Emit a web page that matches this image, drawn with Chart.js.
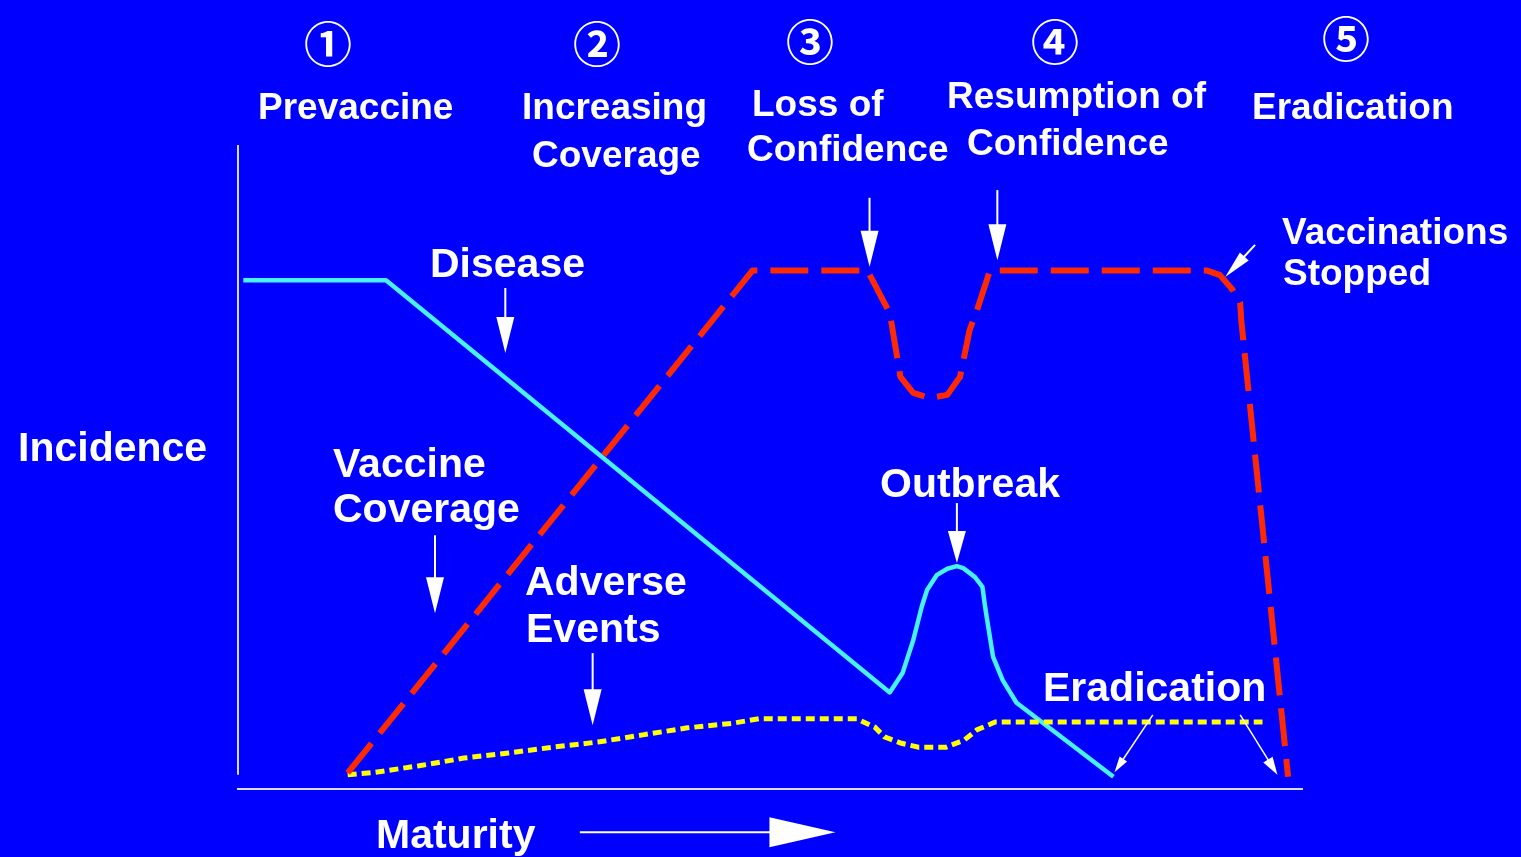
<!DOCTYPE html>
<html>
<head>
<meta charset="utf-8">
<script src="https://cdn.jsdelivr.net/npm/chart.js@4.4.1/dist/chart.umd.min.js"></script>
<style>
  html, body { margin: 0; padding: 0; background: #0000ff; overflow: hidden; }
  #wrap { width: 1521px; height: 857px; position: relative; }
</style>
</head>
<body>
<div id="wrap"><canvas id="myChart"></canvas></div>
<script>
// maturity (x) / incidence (y), both on a 0-100 scale
const diseaseX = [0.5, 13.9, 61.2, 62.4, 63.4, 64.2, 64.7, 65.6, 66.6, 67.5, 68.1, 69.2, 69.9, 70.1, 70.3, 70.9, 71.8, 73.1, 82.2];
const diseaseY = [79.0, 79.0, 15.0, 18.0, 23.1, 28.3, 30.9, 33.2, 34.2, 34.6, 34.3, 32.9, 31.4, 28.9, 26.7, 20.5, 16.9, 13.4, 1.9];

const coverageX = [10.3, 48.3, 59.1, 61.2, 62.2, 63.4, 65.0, 66.6, 67.8, 68.7, 69.4, 70.6, 91.0, 92.2, 93.4, 94.1, 94.2, 98.6];
const coverageY = [2.5, 80.5, 80.5, 73.9, 64.0, 61.5, 60.7, 61.2, 64.0, 71.3, 74.4, 80.5, 80.5, 79.8, 77.5, 75.5, 72.8, 1.9];

const adverseX = [10.3, 12.9, 17.0, 21.2, 25.4, 29.6, 33.8, 38.0, 42.2, 46.4, 48.9, 58.1, 59.8, 60.7, 62.3, 63.9, 66.5, 68.2, 69.4, 71.1, 96.2];
const adverseY = [2.2, 2.6, 3.6, 4.8, 5.6, 6.5, 7.3, 8.4, 9.5, 10.2, 10.9, 10.9, 9.6, 8.1, 7.1, 6.5, 6.5, 7.6, 9.2, 10.4, 10.4];

const phaseNums = ['①', '②', '③', '④', '⑤'];
const phaseNames = [['Prevaccine'], ['Increasing', 'Coverage'], ['Loss of', 'Confidence'], ['Resumption of', 'Confidence'], ['Eradication']];

const toPoints = (xs, ys) => xs.map((x, i) => ({x: x, y: ys[i]}));

// layout of the annotation text (pixels)
const numPos = [[328, 42], [597, 42], [810, 40], [1055, 40], [1346, 37]];
const phasePos = [[[258, 119]], [[522, 119], [532, 167]], [[752, 116], [747, 161]], [[947, 108], [967, 155]], [[1252, 119]]];
const labels = [
  ['Disease', 430, 277, 41],
  ['Vaccinations', 1282, 244, 37],
  ['Stopped', 1283, 285, 37],
  ['Incidence', 18, 461, 41],
  ['Vaccine', 333, 477, 41],
  ['Coverage', 333, 522, 41],
  ['Outbreak', 880, 497, 41],
  ['Adverse', 525, 595, 41],
  ['Events', 526, 642, 41],
  ['Eradication', 1043, 701, 41],
  ['Maturity', 376, 848, 41]
];
// arrows in chart units: x1, y1, x2, y2, head length, head width, line width
const arrows = [
  [25.1, 77.8, 25.1, 67.7, 36, 18, 2],
  [18.5, 39.4, 18.5, 27.3, 36, 18, 2],
  [33.3, 21.1, 33.3, 9.9, 36, 18, 2],
  [59.3, 91.8, 59.3, 81.1, 36, 18, 2],
  [71.3, 93.0, 71.3, 82.1, 36, 18, 2],
  [67.5, 44.4, 67.5, 35.1, 32, 18, 2],
  [95.5, 84.5, 92.7, 79.5, 28, 12, 2],
  [85.9, 11.5, 82.3, 2.6, 16, 9, 1.5],
  [94.1, 11.5, 97.6, 2.2, 18, 11, 1.5],
  [32.1, -6.7, 56.1, -6.7, 66, 30, 2]
];

function drawArrow(ctx, x1, y1, x2, y2, hl, hw, lw) {
  const a = Math.atan2(y2 - y1, x2 - x1);
  const c = Math.cos(a), s = Math.sin(a);
  const bx = x2 - hl * c, by = y2 - hl * s;
  ctx.strokeStyle = '#ffffff';
  ctx.lineWidth = lw;
  ctx.beginPath();
  ctx.moveTo(x1, y1);
  ctx.lineTo(bx + c, by + s);
  ctx.stroke();
  ctx.fillStyle = '#ffffff';
  ctx.beginPath();
  ctx.moveTo(x2, y2);
  ctx.lineTo(bx - s * hw / 2, by + c * hw / 2);
  ctx.lineTo(bx + s * hw / 2, by - c * hw / 2);
  ctx.closePath();
  ctx.fill();
}

const diagramPlugin = {
  id: 'diagram',
  beforeDraw(chart) {
    const ctx = chart.ctx;
    ctx.save();
    ctx.fillStyle = '#0000ff';
    ctx.fillRect(0, 0, chart.width, chart.height);
    // axes
    const xs = chart.scales.x, ys = chart.scales.y;
    ctx.strokeStyle = '#d8d8ff';
    ctx.lineWidth = 2;
    ctx.beginPath();
    ctx.moveTo(xs.getPixelForValue(0), ys.getPixelForValue(100));
    ctx.lineTo(xs.getPixelForValue(0), ys.getPixelForValue(2.2));
    ctx.moveTo(xs.getPixelForValue(-0.1), ys.getPixelForValue(0));
    ctx.lineTo(xs.getPixelForValue(100), ys.getPixelForValue(0));
    ctx.stroke();
    ctx.restore();
  },
  afterDraw(chart) {
    const ctx = chart.ctx;
    const xs = chart.scales.x, ys = chart.scales.y;
    ctx.save();
    ctx.fillStyle = '#ffffff';
    ctx.textBaseline = 'middle';
    ctx.textAlign = 'center';
    ctx.font = 'bold 48px "Noto Sans CJK JP", "DejaVu Sans"';
    phaseNums.forEach((t, i) => ctx.fillText(t, numPos[i][0], numPos[i][1] + 2));

    ctx.textBaseline = 'alphabetic';
    ctx.textAlign = 'left';
    ctx.font = 'bold 37px "Liberation Sans", Arial, sans-serif';
    phaseNames.forEach((lines, i) => {
      lines.forEach((t, j) => ctx.fillText(t, phasePos[i][j][0], phasePos[i][j][1]));
    });
    labels.forEach(l => {
      ctx.font = 'bold ' + l[3] + 'px "Liberation Sans", Arial, sans-serif';
      ctx.fillText(l[0], l[1], l[2]);
    });

    arrows.forEach(a => {
      drawArrow(ctx, xs.getPixelForValue(a[0]), ys.getPixelForValue(a[1]),
        xs.getPixelForValue(a[2]), ys.getPixelForValue(a[3]), a[4], a[5], a[6]);
    });
    ctx.restore();
  }
};

const data = {
  datasets: [
    {
      label: 'Vaccine Coverage',
      data: toPoints(coverageX, coverageY),
      borderColor: '#ff2a00',
      borderWidth: 6,
      borderDash: [38, 13],
      borderJoinStyle: 'round',
      pointRadius: 0,
      tension: 0
    },
    {
      label: 'Adverse Events',
      data: toPoints(adverseX, adverseY),
      borderColor: '#ffff00',
      borderWidth: 5,
      borderDash: [9, 5],
      pointRadius: 0,
      tension: 0
    },
    {
      label: 'Disease',
      data: toPoints(diseaseX, diseaseY),
      borderColor: '#48f0f8',
      borderWidth: 4.5,
      borderJoinStyle: 'round',
      pointRadius: 0,
      tension: 0
    }
  ]
};

const config = {
  type: 'line',
  data: data,
  options: {
    responsive: true,
    maintainAspectRatio: false,
    animation: false,
    clip: false,
    layout: {
      padding: {left: 238, right: 218, top: 145, bottom: 68}
    },
    plugins: {
      legend: {display: false},
      tooltip: {enabled: false}
    },
    scales: {
      x: {type: 'linear', min: 0, max: 100, display: false},
      y: {min: 0, max: 100, display: false}
    }
  },
  plugins: [diagramPlugin]
};

const ctx = document.getElementById('myChart').getContext('2d');
new Chart(ctx, config);
</script>
</body>
</html>
